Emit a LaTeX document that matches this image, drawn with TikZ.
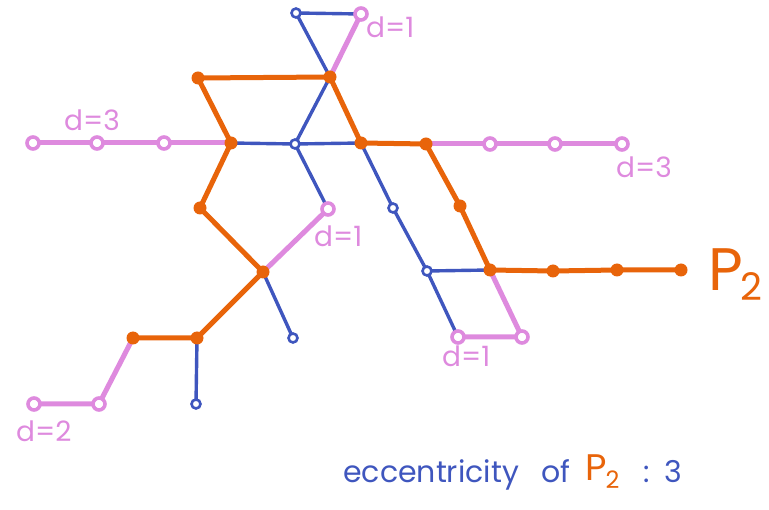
\documentclass[tikz,border=0pt]{standalone}
\usepackage{fontspec}
\setmainfont{Poppins}
\definecolor{eblue}{HTML}{3F56BE}
\definecolor{eorange}{HTML}{E8640A}
\definecolor{epink}{HTML}{DE8ADE}
\begin{document}
\begin{tikzpicture}[x=1pt,y=-1pt,
  be/.style={draw=eblue,line width=3.4pt,line cap=round,line join=round},
  pe/.style={draw=epink,line width=5pt,line cap=round,line join=round},
  oe/.style={draw=eorange,line width=5pt,line cap=round,line join=round},
  bv/.style={circle,draw=eblue,fill=white,line width=2.6pt,inner sep=0pt,minimum size=9pt},
  pv/.style={circle,draw=epink,fill=white,line width=3.6pt,inner sep=0pt,minimum size=12pt},
  ov/.style={circle,fill=eorange,inner sep=0pt,minimum size=13pt},
  lab/.style={text=epink,font=\fontsize{28}{28}\selectfont,inner sep=0pt},
  ecc/.style={text=eblue,font=\fontsize{30}{30}\selectfont,inner sep=0pt,anchor=base west}]
\useasboundingbox (0,0) rectangle (769,510);
% coordinates
\coordinate (T1) at (296,13);
\coordinate (T2) at (361,14);
\coordinate (A) at (198,78);
\coordinate (B) at (330,77);
\coordinate (L1) at (33,143);
\coordinate (L2) at (97,143);
\coordinate (L3) at (164,143);
\coordinate (C) at (231,143);
\coordinate (D) at (295,144);
\coordinate (E) at (361,143);
\coordinate (F) at (426,144);
\coordinate (R1) at (490,144);
\coordinate (R2) at (555,144);
\coordinate (R3) at (622,144);
\coordinate (G) at (200,208);
\coordinate (H) at (328,209);
\coordinate (I) at (393,208);
\coordinate (J) at (460,206);
\coordinate (K) at (263,272);
\coordinate (M) at (293,338);
\coordinate (N) at (427,271);
\coordinate (P) at (490,270);
\coordinate (Q1) at (553,271);
\coordinate (Q2) at (617,270);
\coordinate (Q3) at (681,270);
\coordinate (S1) at (458,337);
\coordinate (S2) at (522,337);
\coordinate (U) at (133,338);
\coordinate (V) at (197,338);
\coordinate (W1) at (34,404);
\coordinate (W2) at (99,404);
\coordinate (X) at (196,404);
% blue base graph
\draw[be] (T1) -- (T2) (T1) -- (B) (T2) -- (B) (A) -- (B) (A) -- (C) (B) -- (D) (B) -- (E)
  (L1) -- (L2) -- (L3) -- (C) -- (D) -- (E) -- (F) -- (R1) -- (R2) -- (R3)
  (C) -- (G) -- (K) (D) -- (H) -- (K) (E) -- (I) -- (N) -- (S1) -- (S2) -- (P) (N) -- (P)
  (F) -- (J) -- (P) -- (Q1) -- (Q2) -- (Q3)
  (K) -- (M) (K) -- (V) -- (U) -- (W2) -- (W1) (V) -- (X);
% pink overlay (distance-labelled branches)
\draw[pe] (T2) -- (B);
\draw[pe] (L1) -- (L2) -- (L3) -- (C);
\draw[pe] (F) -- (R1) -- (R2) -- (R3);
\draw[pe] (H) -- (K);
\draw[pe] (P) -- (S2) -- (S1);
\draw[pe] (U) -- (W2) -- (W1);
% orange overlay
\draw[oe] (C) -- (A) -- (B) -- (E) -- (F) -- (J) -- (P) -- (Q1) -- (Q2) -- (Q3);
\draw[oe] (C) -- (G) -- (K) -- (V) -- (U);
% vertices
\foreach \v in {T1,D,I,M,N,X} \node[bv] (n\v) at (\v) {};
\foreach \v in {T2,L1,L2,L3,R1,R2,R3,H,S1,S2,W1,W2} \node[pv] (n\v) at (\v) {};
\foreach \v in {A,B,C,E,F,G,J,K,P,Q1,Q2,Q3,U,V} \node[ov] (n\v) at (\v) {};
% labels
\node[lab,anchor=west] (d1a) at (366,27) {d=1};
\node[lab,anchor=west] (d3a) at (64,120) {d=3};
\node[lab,anchor=west] (d3b) at (616,167) {d=3};
\node[lab,anchor=west] (d1b) at (314,236) {d=1};
\node[lab,anchor=west] (d1c) at (442,356) {d=1};
\node[lab,anchor=west] (d2) at (16,431) {d=2};
\node[text=eorange,font=\fontsize{60}{60}\selectfont,inner sep=0pt,anchor=base west] (p2) at (708,291) {P\kern-2pt\raisebox{-0.3ex}{\fontsize{38}{38}\selectfont 2}};
\node[ecc] (ecc1) at (343,483) {eccentricity};
\node[ecc] (ecc2) at (541,483) {of};
\node[ecc,text=eorange,font=\fontsize{37}{37}\selectfont] (ecc3) at (585,481) {P\kern-1pt\raisebox{-0.35ex}{\fontsize{24}{24}\selectfont 2}};
\node[ecc] (ecc4) at (643,483) {:};
\node[ecc] (ecc5) at (664,483) {3};
\end{tikzpicture}
\end{document}
